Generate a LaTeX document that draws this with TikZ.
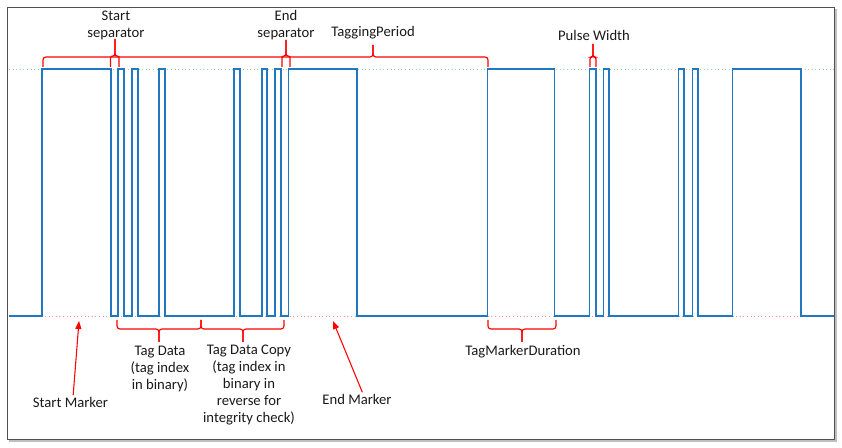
\documentclass[tikz,border=0pt]{standalone}
\usepackage{fontspec}
\setmainfont{Carlito}
\usetikzlibrary{arrows.meta}
\definecolor{sigblue}{HTML}{1F78C1}
\definecolor{gridgreen}{HTML}{8EDC8E}
\definecolor{gridred}{HTML}{FF9090}
\definecolor{framegray}{HTML}{505050}
\begin{document}
\begin{tikzpicture}[x=0.75pt,y=-0.75pt,
  sig/.style={draw=sigblue,line width=0.85pt,line join=miter},
  brace/.style={draw=red,line width=0.9pt,rounded corners=2.2pt},
  sbrace/.style={draw=red,line width=0.9pt,rounded corners=1.6pt},
  lbl/.style={font=\fontsize{11}{12.8}\selectfont,align=center,inner sep=1pt,text=black!90},
  arr/.style={draw=red,line width=0.8pt,-{Triangle[length=6pt,width=4.5pt]}}]
\useasboundingbox (0,0) rectangle (842,448);
% frame
\draw[black!25,line width=1.2pt] (9,441) -- (836,441) -- (836,9);
\draw[framegray,line width=0.9pt] (7.5,7.5) rectangle (834.5,439.5);
% reference levels
\draw[gridgreen,dotted,line width=0.7pt] (9,69) -- (834,69);
\draw[gridred,dotted,line width=0.7pt] (9,316) -- (834,316);
% signal
\draw[sig] (8.5,316)
  foreach \a/\b in {42/111,118/124,132/138,159/165,234/240,262/267,275/281,288.5/357,
                    487.5/554.5,589.5/596,603.5/609,678.5/684,692.5/698,732.5/801}
  { -- (\a,316) -- (\a,69) -- (\b,69) -- (\b,316) } -- (834,316);
% top braces
\draw[brace] (43,67) -- (43,57) -- (373,57) -- (373,45);
\draw[brace] (373,45) -- (373,57) -- (488,57) -- (488,67);
\draw[sbrace] (110.5,67) -- (110.5,56) -- (115,56) -- (115,39);
\draw[sbrace] (115,39) -- (115,56) -- (119,56) -- (119,67);
\draw[sbrace] (282,67) -- (282,56) -- (286,56) -- (286,40);
\draw[sbrace] (286,40) -- (286,56) -- (290,56) -- (290,67);
\draw[sbrace] (590,67) -- (590,57) -- (593,57) -- (593,44);
\draw[sbrace] (593,44) -- (593,57) -- (596,57) -- (596,67);
% bottom braces
\draw[brace] (117,320) -- (117,329) -- (159,329) -- (159,342);
\draw[brace] (159,342) -- (159,329) -- (201,329) -- (201,320);
\draw[brace] (201,320) -- (201,329) -- (243,329) -- (243,342);
\draw[brace] (243,342) -- (243,329) -- (284,329) -- (284,320);
\draw[brace] (488,320) -- (488,329) -- (522,329) -- (522,342);
\draw[brace] (522,342) -- (522,329) -- (556,329) -- (556,320);
% labels
\node[lbl] (startsep) at (116,25) {Start\\separator};
\node[lbl] (endsep) at (286,25) {End\\separator};
\node[lbl] (period) at (373,33) {TaggingPeriod};
\node[lbl] (pulse) at (594,35) {Pulse Width};
\node[lbl] (tagdata) at (160,369) {Tag Data\\(tag index\\in binary)};
\node[lbl] (tagcopy) at (249,385) {Tag Data Copy\\(tag index in\\binary in\\reverse for\\integrity check)};
\node[lbl] (tmd) at (523,352) {TagMarkerDuration};
\node[lbl] (smarker) at (70.5,402) {Start Marker};
\node[lbl] (emarker) at (357,399) {End Marker};
% arrows
\coordinate (smhead) at (79,321);
\coordinate (emhead) at (333,321);
\draw[arr] ([xshift=2pt]smarker.north) -- (smhead);
\draw[arr] ([xshift=4pt]emarker.north) -- (emhead);
\end{tikzpicture}
\end{document}
